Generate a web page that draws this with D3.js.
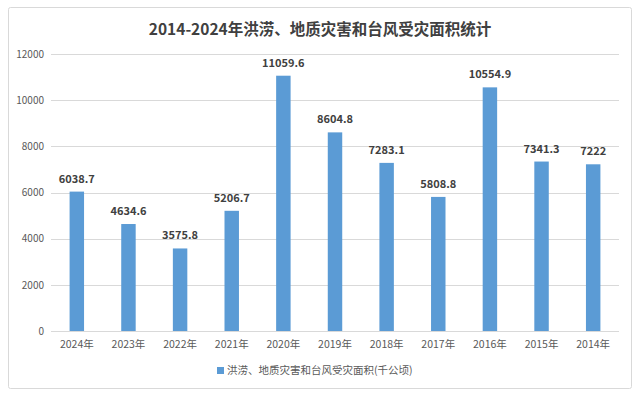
<html>
<meta charset="utf-8">
<head>
  <title>2014-2024年洪涝、地质灾害和台风受灾面积统计</title>
</head>
<style>
body { margin: 0; background: #fff; }
text { font-family: "Microsoft YaHei", "Noto Sans CJK SC", sans-serif; }
</style>
<body>
  <svg width="640" height="397"></svg>

<script src="https://d3js.org/d3.v7.min.js"></script>
<script>
var width = 640, height = 397

var years = ['2024年', '2023年', '2022年', '2021年', '2020年', '2019年', '2018年', '2017年', '2016年', '2015年', '2014年']
var area = [6038.7, 4634.6, 3575.8, 5206.7, 11059.6, 8604.8, 7283.1, 5808.8, 10554.9, 7341.3, 7222]
var yTicks = [0, 2000, 4000, 6000, 8000, 10000, 12000]
var seriesName = '洪涝、地质灾害和台风受灾面积(千公顷)'

var svg = d3.select('svg')

// outer frame
svg.append('rect')
  .attr('x', 8.5).attr('y', 7.5)
  .attr('width', 623).attr('height', 381)
  .attr('rx', 2)
  .attr('fill', '#fff')
  .attr('stroke', '#d9d9d9')

svg.append('text')
  .attr('x', 320).attr('y', 35)
  .attr('text-anchor', 'middle')
  .attr('font-size', 15.5)
  .attr('font-weight', 'bold')
  .attr('fill', '#404040')
  .text('2014-2024年洪涝、地质灾害和台风受灾面积统计')

var x = d3.scaleBand().domain(years).range([51, 619]).paddingInner(0.72).paddingOuter(0.36)
var y = d3.scaleLinear().domain([0, 12000]).range([331, 54])

// gridlines
svg.append('g')
  .selectAll('line')
  .data(yTicks)
  .enter().append('line')
  .attr('x1', 51).attr('x2', 619)
  .attr('y1', function(d) { return Math.round(y(d)) + 0.5 })
  .attr('y2', function(d) { return Math.round(y(d)) + 0.5 })
  .attr('stroke', '#d9d9d9')

var yAxis = svg.append('g')
  .attr('transform', 'translate(44,0)')
  .call(d3.axisLeft(y).tickValues(yTicks).tickFormat(d3.format('d')).tickSize(0).tickPadding(0))
yAxis.select('.domain').remove()
yAxis.selectAll('text')
  .attr('font-size', 10)
  .attr('fill', '#595959')
  .style('font-family', '"Microsoft YaHei", "Noto Sans CJK SC", sans-serif')

var xAxis = svg.append('g')
  .attr('transform', 'translate(0,331)')
  .call(d3.axisBottom(x).tickSize(0).tickPadding(10))
xAxis.select('.domain').remove()
xAxis.selectAll('text')
  .attr('font-size', 10.5)
  .attr('fill', '#595959')
  .style('font-family', '"Microsoft YaHei", "Noto Sans CJK SC", sans-serif')

svg.append('line')
  .attr('x1', 51).attr('x2', 619)
  .attr('y1', 331.5).attr('y2', 331.5)
  .attr('stroke', '#d9d9d9')

var bars = svg.append('g')
bars.selectAll('rect')
  .data(area)
  .enter().append('rect')
  .attr('x', function(d, i) { return x(years[i]) })
  .attr('y', function(d) { return y(d) })
  .attr('width', x.bandwidth())
  .attr('height', function(d) { return y(0) - y(d) })
  .attr('fill', '#5b9bd5')

bars.selectAll('text')
  .data(area)
  .enter().append('text')
  .attr('x', function(d, i) { return x(years[i]) + x.bandwidth() / 2 })
  .attr('y', function(d) { return y(d) - 9 })
  .attr('text-anchor', 'middle')
  .attr('font-size', 11)
  .attr('font-weight', 'bold')
  .attr('fill', '#404040')
  .text(function(d) { return d })

// legend
var legend = svg.append('g').attr('transform', 'translate(217,367)')
legend.append('rect')
  .attr('width', 7).attr('height', 7)
  .attr('fill', '#5b9bd5')
legend.append('text')
  .attr('x', 10).attr('y', 7)
  .attr('font-size', 10.5)
  .attr('fill', '#595959')
  .text(seriesName)
</script>
</body>
</html>
